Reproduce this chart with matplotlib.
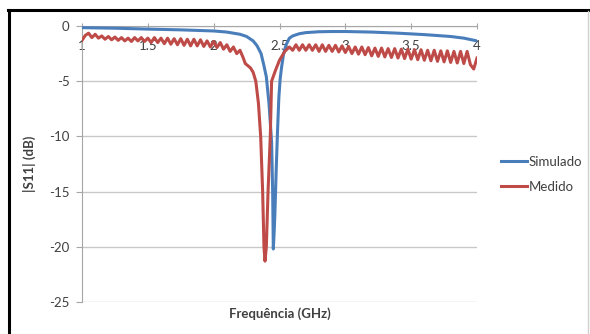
"""
|S11| simulado x medido
"""

import matplotlib
matplotlib.use("Agg")
import matplotlib.pyplot as plt
from matplotlib.lines import Line2D

#-----Dados-----

freq_sim = [1.0, 1.25, 1.5, 1.75, 2.0, 2.1, 2.2, 2.25, 2.3, 2.33, 2.36, 2.38, 2.40, 2.42,
            2.44, 2.448, 2.453, 2.46, 2.465, 2.475, 2.485, 2.495, 2.505, 2.515, 2.53,
            2.55, 2.575, 2.6, 2.65, 2.7, 2.8, 2.9, 3.0, 3.2, 3.4, 3.6, 3.8, 3.9, 4.0]
s11_sim = [-0.15, -0.2, -0.28, -0.35, -0.45, -0.55, -0.75, -0.95, -1.35, -1.8, -2.5, -3.5,
           -4.6, -7.0, -10.5, -15.0, -20.2, -18.5, -17.0, -13.0, -9.5, -6.5, -4.8, -3.8,
           -2.6, -1.7, -1.1, -0.9, -0.7, -0.6, -0.52, -0.5, -0.5, -0.55, -0.65, -0.78,
           -0.95, -1.1, -1.35]

freq_med = [1.000, 1.025, 1.050, 1.075, 1.100, 1.125, 1.150, 1.175, 1.200, 1.225, 1.250,
            1.275, 1.300, 1.325, 1.350, 1.375, 1.400, 1.425, 1.450, 1.475, 1.500, 1.525,
            1.550, 1.575, 1.600, 1.625, 1.650, 1.675, 1.700, 1.725, 1.750, 1.775, 1.800,
            1.825, 1.850, 1.875, 1.900, 1.925, 1.950, 1.975, 2.000, 2.025, 2.050, 2.075,
            2.100, 2.125, 2.150, 2.175, 2.200, 2.225, 2.240, 2.260, 2.280, 2.300, 2.320,
            2.340, 2.357, 2.372, 2.382, 2.390, 2.400, 2.413, 2.430, 2.440, 2.470, 2.500,
            2.540, 2.575, 2.600, 2.625, 2.650, 2.675, 2.700, 2.725, 2.750, 2.775, 2.800,
            2.825, 2.850, 2.875, 2.900, 2.925, 2.950, 2.975, 3.000, 3.025, 3.050, 3.075,
            3.100, 3.125, 3.150, 3.175, 3.200, 3.225, 3.250, 3.275, 3.300, 3.325, 3.350,
            3.375, 3.400, 3.425, 3.450, 3.475, 3.500, 3.525, 3.550, 3.575, 3.600, 3.625,
            3.650, 3.675, 3.700, 3.725, 3.750, 3.775, 3.800, 3.825, 3.850, 3.875, 3.900,
            3.925, 3.950, 3.975, 4.000]
s11_med = [-1.30, -0.85, -0.65, -1.05, -0.75, -1.10, -0.90, -1.20, -0.95, -1.25, -1.00,
           -1.30, -1.05, -1.35, -1.10, -1.40, -1.05, -1.35, -1.05, -1.40, -1.10, -1.50,
           -1.05, -1.50, -1.10, -1.60, -1.10, -1.65, -1.15, -1.70, -1.15, -1.75, -1.20,
           -1.80, -1.20, -1.80, -1.25, -1.85, -1.35, -1.90, -1.40, -1.95, -1.50, -2.10,
           -1.70, -2.30, -1.90, -2.50, -2.20, -2.90, -3.40, -3.60, -3.80, -4.20, -5.00,
           -7.00, -10.0, -15.0, -20.0, -21.3, -20.0, -15.0, -10.0, -5.00, -4.00, -3.10,
           -2.30, -1.90, -2.20, -1.70, -2.20, -1.70, -2.20, -1.70, -2.20, -1.70, -2.30,
           -1.70, -2.30, -1.75, -2.30, -1.75, -2.35, -1.80, -2.40, -1.85, -2.50, -1.90,
           -2.55, -1.90, -2.60, -1.95, -2.70, -2.00, -2.75, -2.00, -2.80, -2.05, -2.85,
           -2.05, -2.90, -2.10, -2.95, -2.10, -3.00, -2.15, -3.05, -2.15, -3.10, -2.20,
           -3.15, -2.20, -3.20, -2.25, -3.25, -2.25, -3.30, -2.30, -3.35, -2.30, -3.40,
           -2.30, -3.50, -3.90, -2.90]

x_ticks = [1, 1.5, 2, 2.5, 3, 3.5, 4]
x_labels = ["1", "1.5", "2", "2.5", "3", "3.5", "4"]
y_ticks = [0, -5, -10, -15, -20, -25]

#-----Figura-----

plt.rcParams['font.family'] = ['Lato', 'DejaVu Sans']
W, H = 590, 334
fig = plt.figure(figsize=(W / 100, H / 100), dpi=100)
ax = fig.add_axes([82 / W, 1 - 302 / H, (477 - 82) / W, (302 - 26) / H])

azul = "#4A7EBB"
vermelho = "#BE4B48"
cinza = "#A6A6A6"

ax.plot(freq_sim, s11_sim, color=azul, lw=2.2, label="Simulado", zorder=3)
ax.plot(freq_med, s11_med, color=vermelho, lw=2.2, label="Medido", zorder=3)

ax.set_xlim(1, 4)
ax.set_ylim(-25, 0)
ax.set_xticks(x_ticks)
ax.set_xticklabels(x_labels)
ax.set_yticks(y_ticks)
ax.set_yticklabels([str(v) for v in y_ticks])

ax.grid(axis='y', color="#C8C8C8", lw=1)
ax.set_axisbelow(True)

for s in ['right', 'bottom']:
    ax.spines[s].set_visible(False)
ax.spines['top'].set_color(cinza)
ax.spines['left'].set_color(cinza)

ax.tick_params(axis='x', top=True, bottom=False, labeltop=True, labelbottom=False,
               direction='inout', length=5, color=cinza, pad=-21,
               labelsize=9.5, labelcolor="#404040")
ax.tick_params(axis='y', direction='out', length=4, color=cinza, pad=5,
               labelsize=9.5, labelcolor="#404040")

ax.set_xlabel("Frequência (GHz)", fontsize=9.5, fontweight='bold', color="#404040", labelpad=4)
ax.set_ylabel("|S11| (dB)", fontsize=9.5, fontweight='bold', color="#404040", labelpad=9)

fig.legend(loc='upper left', bbox_to_anchor=(501 / W, 1 - 156 / H), frameon=False,
           fontsize=9.5, handlelength=2.0, handletextpad=0.1, labelspacing=0.95,
           borderpad=0, borderaxespad=0, labelcolor="#404040")

#-----Moldura-----

fig.add_artist(Line2D([8 / W, 1], [1 - 10 / H, 1 - 10 / H], color="black", lw=2.2))
fig.add_artist(Line2D([9 / W, 9 / W], [0, 1 - 10 / H], color="black", lw=2.2))
fig.add_artist(Line2D([588 / W, 588 / W], [0, 1 - 11 / H], color="#D0D0D0", lw=1))

fig.savefig("out.png", dpi=100)
